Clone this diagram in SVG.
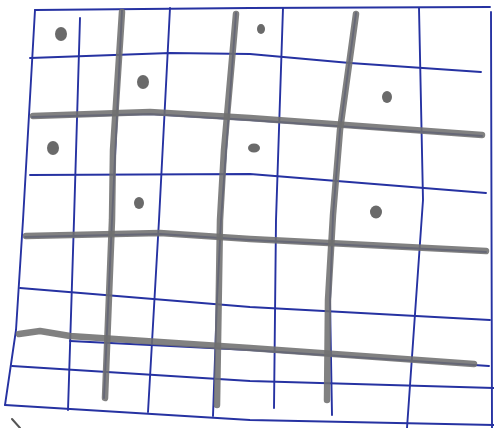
<svg xmlns="http://www.w3.org/2000/svg" width="494" height="428" viewBox="0 0 494 428">
<style>
.b{fill:none;stroke:#2632a2;stroke-width:1.9;stroke-linecap:round;stroke-linejoin:round}
.g{fill:none;stroke:#707070;stroke-width:6.5;stroke-linecap:round;stroke-linejoin:round;opacity:0.88}
.d{fill:#6a6a6a}
</style>
<rect width="494" height="428" fill="#ffffff"/>
<g id="blue-grid">
<polyline class="b" points="35,10 250,8 490,7"/>
<polyline class="b" points="30,58 170,53 250,54 350,63 481,72"/>
<polyline class="b" points="32,117 150,114 250,120 482,136"/>
<polyline class="b" points="30,175 250,174 486,193"/>
<polyline class="b" points="25,237 160,234 250,240 486,252"/>
<polyline class="b" points="20,288 250,307 490,320"/>
<polyline class="b" points="70,341 250,350 489,366"/>
<polyline class="b" points="12,366 250,381 494,388"/>
<polyline class="b" points="5,405 250,420 494,425"/>
<polyline class="b" points="35,10 23,220 16,330 5,405"/>
<polyline class="b" points="80,18 74,220 68,410"/>
<polyline class="b" points="122,10 112,220 104,398"/>
<polyline class="b" points="170,8 159,220 148,412"/>
<polyline class="b" points="236,13 221,220 217,300 213,416"/>
<polyline class="b" points="283,8 276,220 274,408"/>
<polyline class="b" points="356,13 340,130 333,215 330,300 332,415"/>
<polyline class="b" points="419,8 423,200 407,428"/>
<polyline class="b" points="491,12 492,428"/>
</g>
<g id="thick-lines">
<polyline class="g" points="122,12 113,150 112,220 105,398"/>
<polyline class="g" points="236,14 224,150 220,220 217,405"/>
<polyline class="g" points="356,14 340,130 333,215 328,300 327,400"/>
<polyline class="g" points="33,116 150,112 250,118 482,135"/>
<polyline class="g" points="26,236 160,233 250,239 486,251"/>
<polyline class="g" points="19,334 40,331 70,336 250,348 474,364"/>
</g>
<g id="dots">
<ellipse class="d" cx="61" cy="34" rx="6" ry="7"/>
<ellipse class="d" cx="143" cy="82" rx="6" ry="7"/>
<ellipse class="d" cx="53" cy="148" rx="6" ry="7"/>
<ellipse class="d" cx="139" cy="203" rx="5" ry="6"/>
<ellipse class="d" cx="261" cy="29" rx="4" ry="5"/>
<ellipse class="d" cx="387" cy="97" rx="5" ry="6"/>
<ellipse class="d" cx="254" cy="148" rx="6" ry="4.5"/>
<ellipse class="d" cx="376" cy="212" rx="6" ry="6.5"/>
</g>
<line x1="12" y1="419" x2="20" y2="428" stroke="#555" stroke-width="2" stroke-linecap="round"/>
</svg>
